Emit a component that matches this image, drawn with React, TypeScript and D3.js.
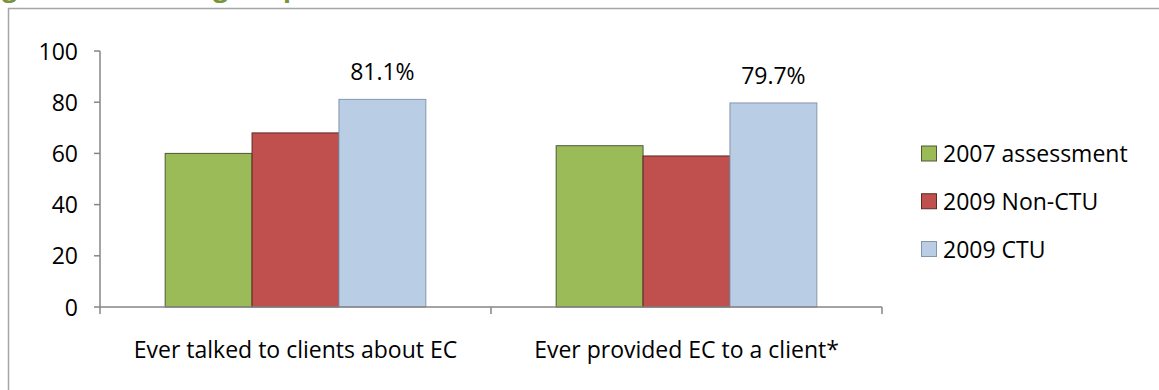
import { useEffect, useRef } from "react";
import * as d3 from "d3";

const CATEGORIES = ["Ever talked to clients about EC", "Ever provided EC to a client*"];
const SERIES = ["2007 assessment", "2009 Non-CTU", "2009 CTU"];
const VALUES_2007 = [60, 63];
const VALUES_NON_CTU = [68, 59];
const VALUES_CTU = [81.1, 79.7];
const CTU_LABELS = ["81.1%", "79.7%"];
const Y_TICKS = [0, 20, 40, 60, 80, 100];
const TITLE = "Figure 2. Percentage of providers";

const WIDTH = 1159;
const HEIGHT = 390;
const COLORS = ["#9BBB59", "#C0504D", "#B9CDE5"];
const STROKES = ["#4d5a35", "#5a2a28", "#8496a8"];
const AXIS_COLOR = "#868686";
const FONT = "'Open Sans', sans-serif";

function renderChart(svgEl: SVGSVGElement | null) {
  if (!svgEl) return;
  const svg = d3.select(svgEl);
  svg.selectAll("*").remove();

  // outer frame (runs off the right and bottom edges)
  svg
    .append("rect")
    .attr("x", 8.5)
    .attr("y", 8.5)
    .attr("width", 1300)
    .attr("height", 600)
    .attr("fill", "none")
    .attr("stroke", "#a5a5a5")
    .attr("stroke-width", 1.5);

  // clipped title above the frame, only descenders are in view
  const title = svg
    .append("text")
    .attr("x", 0)
    .attr("y", -3)
    .attr("fill", "#77933C")
    .attr("font-weight", "bold")
    .attr("font-size", "26px")
    .style("font-family", FONT)
    .text(TITLE);
  const gIdx = TITLE.indexOf("ge of");
  const node = title.node() as SVGTextElement;
  try {
    const gx = node.getStartPositionOfChar(gIdx + 1).x;
    title.attr("x", 228 - gx);
  } catch (e) {
    title.attr("x", -31);
  }

  const x0 = d3
    .scaleBand<string>()
    .domain(CATEGORIES)
    .range([100, 882])
    .paddingInner(1 / 3)
    .paddingOuter(1 / 6);
  const x1 = d3.scaleBand<string>().domain(SERIES).range([0, x0.bandwidth()]);
  const y = d3.scaleLinear().domain([0, 100]).range([307, 51]);

  const seriesValues = [VALUES_2007, VALUES_NON_CTU, VALUES_CTU];

  // bars
  CATEGORIES.forEach((cat, ci) => {
    SERIES.forEach((s, si) => {
      const v = seriesValues[si][ci];
      svg
        .append("rect")
        .attr("x", (x0(cat) ?? 0) + (x1(s) ?? 0))
        .attr("y", y(v))
        .attr("width", x1.bandwidth())
        .attr("height", y(0) - y(v))
        .attr("fill", COLORS[si])
        .attr("stroke", STROKES[si])
        .attr("stroke-width", 1);
    });
    // data label for CTU series
    svg
      .append("text")
      .attr("x", (x0(cat) ?? 0) + (x1(SERIES[2]) ?? 0) + x1.bandwidth() / 2)
      .attr("y", y(VALUES_CTU[ci]) - 19)
      .attr("text-anchor", "middle")
      .attr("font-size", "23px")
      .attr("fill", "#000")
      .style("font-family", FONT)
      .text(CTU_LABELS[ci]);
  });

  // y axis
  svg
    .append("line")
    .attr("x1", 100)
    .attr("x2", 100)
    .attr("y1", y(100))
    .attr("y2", y(0))
    .attr("stroke", AXIS_COLOR)
    .attr("stroke-width", 1.5);
  Y_TICKS.forEach((t) => {
    svg
      .append("line")
      .attr("x1", 94)
      .attr("x2", 100)
      .attr("y1", y(t))
      .attr("y2", y(t))
      .attr("stroke", AXIS_COLOR)
      .attr("stroke-width", 1.5);
    svg
      .append("text")
      .attr("x", 78)
      .attr("y", y(t) + 8.5)
      .attr("text-anchor", "end")
      .attr("font-size", "23px")
      .attr("fill", "#000")
      .style("font-family", FONT)
      .text(String(t));
  });

  // x axis
  svg
    .append("line")
    .attr("x1", 100)
    .attr("x2", 882)
    .attr("y1", y(0))
    .attr("y2", y(0))
    .attr("stroke", AXIS_COLOR)
    .attr("stroke-width", 1.5);
  const step = x0.step();
  [0, 1, 2].forEach((i) => {
    const tx = 100 + i * step;
    svg
      .append("line")
      .attr("x1", tx)
      .attr("x2", tx)
      .attr("y1", y(0))
      .attr("y2", y(0) + 7)
      .attr("stroke", AXIS_COLOR)
      .attr("stroke-width", 1.5);
  });
  CATEGORIES.forEach((cat) => {
    svg
      .append("text")
      .attr("x", (x0(cat) ?? 0) + x0.bandwidth() / 2)
      .attr("y", 358)
      .attr("text-anchor", "middle")
      .attr("font-size", "23px")
      .attr("fill", "#000")
      .style("font-family", FONT)
      .text(cat);
  });

  // legend
  const ly = d3.scalePoint<string>().domain(SERIES).range([153.5, 249]);
  SERIES.forEach((s, si) => {
    const cy = ly(s) ?? 0;
    svg
      .append("rect")
      .attr("x", 921.5)
      .attr("y", cy - 7.5)
      .attr("width", 15)
      .attr("height", 15)
      .attr("fill", COLORS[si])
      .attr("stroke", STROKES[si])
      .attr("stroke-width", 1);
    svg
      .append("text")
      .attr("x", 943)
      .attr("y", cy + 8.5)
      .attr("font-size", "23px")
      .attr("fill", "#000")
      .style("font-family", FONT)
      .text(s);
  });
}

export default function App() {
  const svgRef = useRef<SVGSVGElement>(null);

  useEffect(() => {
    renderChart(svgRef.current);
  }, []);

  return (
    <svg
      ref={svgRef}
      width={WIDTH}
      height={HEIGHT}
      style={{ position: "absolute", left: 0, top: 0, background: "#fff" }}
    />
  );
}
